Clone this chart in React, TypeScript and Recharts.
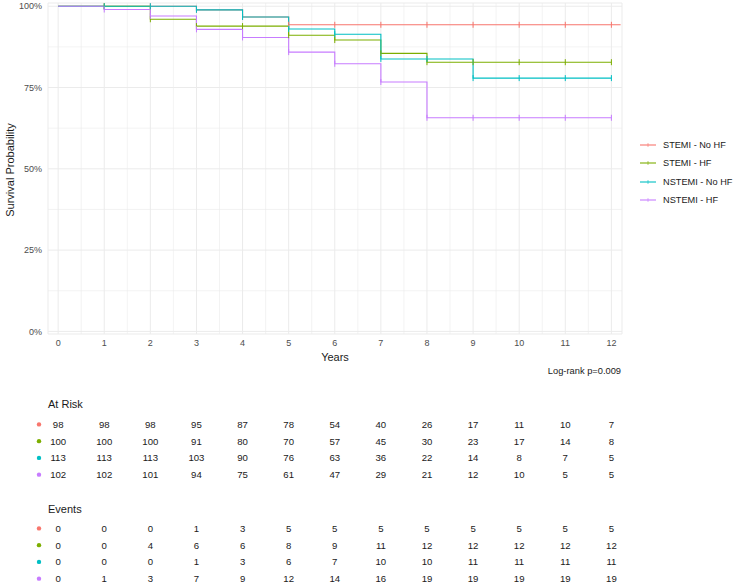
import { LineChart, Line, XAxis, YAxis, CartesianGrid, ReferenceLine, ScatterChart, Scatter } from 'recharts';

const FONT = '"Liberation Sans", Arial, Helvetica, sans-serif';

const GROUPS = ['STEMI - No HF', 'STEMI - HF', 'NSTEMI - No HF', 'NSTEMI - HF'];
const COLORS = ['#F8766D', '#7CAE00', '#00BFC4', '#C77CFF'];

const YEARS = [0, 1, 2, 3, 4, 5, 6, 7, 8, 9, 10, 11, 12];
const Y_TICKS = [0, 0.25, 0.5, 0.75, 1];
const X_MINOR = [0.5, 1.5, 2.5, 3.5, 4.5, 5.5, 6.5, 7.5, 8.5, 9.5, 10.5, 11.5];
const Y_MINOR = [0.125, 0.375, 0.625, 0.875];

// survival estimate at each whole year
const STEMI_NOHF = [1, 1, 1, 0.989, 0.967, 0.943, 0.943, 0.943, 0.943, 0.943, 0.943, 0.943, 0.943];
const STEMI_HF = [1, 1, 0.96, 0.939, 0.939, 0.911, 0.896, 0.855, 0.828, 0.828, 0.828, 0.828, 0.828];
const NSTEMI_NOHF = [1, 1, 1, 0.989, 0.967, 0.93, 0.914, 0.838, 0.838, 0.779, 0.779, 0.779, 0.779];
const NSTEMI_HF = [1, 0.99, 0.97, 0.929, 0.904, 0.859, 0.823, 0.767, 0.657, 0.657, 0.657, 0.657, 0.657];
const STEMI_NOHF_LAST_TIME = 12.2;

const AT_RISK = [
  [98, 98, 98, 95, 87, 78, 54, 40, 26, 17, 11, 10, 7],
  [100, 100, 100, 91, 80, 70, 57, 45, 30, 23, 17, 14, 8],
  [113, 113, 113, 103, 90, 76, 63, 36, 22, 14, 8, 7, 5],
  [102, 102, 101, 94, 75, 61, 47, 29, 21, 12, 10, 5, 5],
];
const EVENTS = [
  [0, 0, 0, 1, 3, 5, 5, 5, 5, 5, 5, 5, 5],
  [0, 0, 4, 6, 6, 8, 9, 11, 12, 12, 12, 12, 12],
  [0, 0, 0, 1, 3, 6, 7, 10, 10, 11, 11, 11, 11],
  [0, 1, 3, 7, 9, 12, 14, 16, 19, 19, 19, 19, 19],
];

const SERIES = [STEMI_NOHF, STEMI_HF, NSTEMI_NOHF, NSTEMI_HF];
const KEYS = ['s0', 's1', 's2', 's3'];

const survData: any[] = YEARS.map((t, i) => {
  const row: any = { t };
  SERIES.forEach((s, g) => { row[KEYS[g]] = s[i]; });
  return row;
});
survData.push({ t: STEMI_NOHF_LAST_TIME, s0: STEMI_NOHF[STEMI_NOHF.length - 1] });

const X_DOMAIN = [-0.22, 12.23];
const GRID = '#EBEBEB';
const AXIS_TEXT = '#4D4D4D';

const censorDot = (color: string) => (props: any) => {
  const { cx, cy, index, payload, value } = props;
  if (cy == null || value == null || payload.t === 0 || !Number.isInteger(payload.t)) {
    return <g key={`c-${index}`} />;
  }
  return <line key={`c-${index}`} x1={cx} x2={cx} y1={cy - 3} y2={cy + 3} stroke={color} strokeWidth={1} />;
};

function LegendBox() {
  return (
    <div style={{ position: 'absolute', left: 640, top: 136, fontFamily: FONT, fontSize: 9.2, color: '#1a1a1a' }}>
      {GROUPS.map((g, i) => (
        <div key={g} style={{ display: 'flex', alignItems: 'center', height: 18.3 }}>
          <svg width={16} height={8} style={{ marginRight: 7 }}>
            <line x1={0} x2={16} y1={4} y2={4} stroke={COLORS[i]} strokeWidth={1.1} />
            <line x1={8} x2={8} y1={2} y2={6} stroke={COLORS[i]} strokeWidth={0.6} />
          </svg>
          <span>{g}</span>
        </div>
      ))}
    </div>
  );
}

function RiskTable({ values, top }: { values: number[][]; top: number }) {
  const rows = values.map((vals, g) => ({
    g,
    data: YEARS.map((t, i) => ({ t, row: g + 1, n: vals[i] })),
  }));
  return (
    <div style={{ position: 'absolute', left: 0, top }}>
      <ScatterChart width={735} height={80} margin={{ top: 8, right: 113, bottom: 5, left: 0 }}>
        <XAxis type="number" dataKey="t" domain={X_DOMAIN} hide />
        <YAxis
          type="number"
          dataKey="row"
          domain={[0.5, 4.5]}
          reversed
          ticks={[1, 2, 3, 4]}
          interval={0}
          width={48}
          axisLine={false}
          tickLine={false}
          tickSize={0}
          tickMargin={9}
          tick={(p: any) => (
            <circle key={`dot-${p.payload.value}`} cx={p.x} cy={p.y} r={2.2} fill={COLORS[p.payload.value - 1]} />
          )}
        />
        {rows.map((r) => (
          <Scatter
            key={r.g}
            data={r.data}
            isAnimationActive={false}
            shape={(p: any) => (
              <text
                x={p.cx}
                y={p.cy}
                textAnchor="middle"
                dominantBaseline="central"
                fontSize={9.6}
                fontFamily={FONT}
                fill="#1a1a1a"
              >
                {p.payload.n}
              </text>
            )}
          />
        ))}
      </ScatterChart>
    </div>
  );
}

const label = (text: string, style: any) => (
  <div style={{ position: 'absolute', whiteSpace: 'nowrap', fontFamily: FONT, lineHeight: 1, ...style }}>{text}</div>
);

export default function App() {
  return (
    <div style={{ position: 'absolute', left: 0, top: 0, width: 735, height: 588, background: '#fff', overflow: 'hidden' }}>
      <div style={{ position: 'absolute', left: 0, top: 0 }}>
        <LineChart width={735} height={350} data={survData} margin={{ top: 3, right: 113, bottom: 0, left: 0 }}>
          <CartesianGrid stroke={GRID} strokeWidth={1} />
          {X_MINOR.map((x) => (
            <ReferenceLine key={`xm${x}`} x={x} stroke={GRID} strokeWidth={0.6} />
          ))}
          {Y_MINOR.map((y) => (
            <ReferenceLine key={`ym${y}`} y={y} stroke={GRID} strokeWidth={0.6} />
          ))}
          <XAxis
            type="number"
            dataKey="t"
            domain={X_DOMAIN}
            ticks={YEARS}
            interval={0}
            height={16}
            axisLine={false}
            tickLine={false}
            tickSize={0}
            tickMargin={6}
            tick={{ fontSize: 9, fill: AXIS_TEXT, fontFamily: FONT }}
          />
          <YAxis
            type="number"
            domain={[-0.008, 1.01]}
            ticks={Y_TICKS}
            interval={0}
            width={48}
            axisLine={false}
            tickLine={false}
            tickSize={0}
            tickMargin={6}
            tickFormatter={(v: number) => `${Math.round(v * 100)}%`}
            tick={{ fontSize: 9, fill: AXIS_TEXT, fontFamily: FONT }}
          />
          {KEYS.map((k, g) => (
            <Line
              key={k}
              dataKey={k}
              name={GROUPS[g]}
              type="stepAfter"
              stroke={COLORS[g]}
              strokeWidth={1.1}
              dot={censorDot(COLORS[g])}
              activeDot={false}
              isAnimationActive={false}
            />
          ))}
        </LineChart>
      </div>
      <LegendBox />

      {label('Survival Probability', { left: 10, top: 170, fontSize: 11, color: '#1a1a1a', transform: 'translate(-50%, -50%) rotate(-90deg)' })}
      {label('Years', { left: 335, top: 357, fontSize: 11, color: '#1a1a1a', transform: 'translate(-50%, -50%)' })}
      {label('Log-rank p=0.009', { right: 735 - 621, top: 372, fontSize: 9.3, color: '#1a1a1a', transform: 'translateY(-50%)' })}

      {label('At Risk', { left: 48, top: 404, fontSize: 11, color: '#1a1a1a', transform: 'translateY(-50%)' })}
      <RiskTable values={AT_RISK} top={408} />

      {label('Events', { left: 48, top: 509, fontSize: 11, color: '#1a1a1a', transform: 'translateY(-50%)' })}
      <RiskTable values={EVENTS} top={512} />
    </div>
  );
}
